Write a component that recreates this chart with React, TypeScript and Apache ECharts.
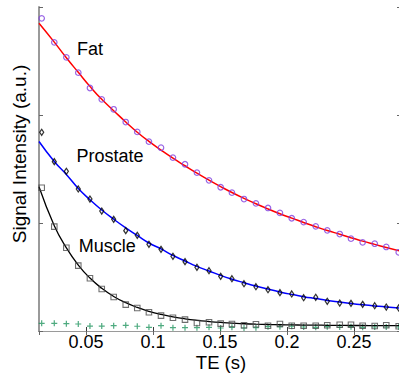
import React, { useEffect, useRef } from "react";
import * as echarts from "echarts";

// Echo times (s) of the measured samples
const teEcho = [
  0.017, 0.0264, 0.0354, 0.0443, 0.053, 0.0618, 0.0707, 0.0797, 0.0883, 0.097,
  0.106, 0.1149, 0.1239, 0.1328, 0.1418, 0.1505, 0.1589, 0.1679, 0.1768, 0.1858,
  0.1947, 0.2035, 0.2124, 0.2214, 0.23, 0.2393, 0.2477, 0.2564, 0.2654, 0.274, 0.2833,
];
const fatSignal = [
  2.895, 2.673, 2.534, 2.392, 2.25, 2.145, 2.053, 1.935, 1.843, 1.753,
  1.697, 1.605, 1.544, 1.466, 1.395, 1.331, 1.281, 1.222, 1.182, 1.139,
  1.093, 1.044, 1.009, 0.969, 0.932, 0.898, 0.855, 0.821, 0.808, 0.778, 0.729,
];
const prostateSignal = [
  1.84, 1.568, 1.479, 1.315, 1.222, 1.111, 1.034, 0.929, 0.886, 0.803,
  0.756, 0.692, 0.642, 0.59, 0.558, 0.506, 0.484, 0.438, 0.41, 0.382,
  0.355, 0.343, 0.308, 0.312, 0.275, 0.259, 0.256, 0.247, 0.234, 0.222, 0.213,
];
const muscleSignal = [
  1.327, 0.966, 0.771, 0.605, 0.488, 0.389, 0.315, 0.244, 0.213, 0.173,
  0.142, 0.123, 0.105, 0.074, 0.081, 0.068, 0.065, 0.053, 0.062, 0.049,
  0.065, 0.049, 0.049, 0.049, 0.053, 0.058, 0.058, 0.049, 0.046, 0.053, 0.044,
];
const noiseSignal = [
  0.071, 0.071, 0.068, 0.065, 0.046, 0.046, 0.049, 0.053, 0.044, 0.034,
  0.049, 0.031, 0.031, 0.031, 0.034, 0.028, 0.034, 0.028, 0.031, 0.04,
  0.04, 0.044, 0.037, 0.034, 0.04, 0.037, 0.04, 0.034, 0.037, 0.037, 0.037,
];

// Fitted curves
const fitTE = [
  0.015, 0.0264, 0.0354, 0.0443, 0.053, 0.0618, 0.0707, 0.0797, 0.0883, 0.097,
  0.106, 0.1149, 0.1239, 0.1328, 0.1418, 0.1505, 0.1589, 0.1679, 0.1768, 0.1858,
  0.1947, 0.2035, 0.2124, 0.2214, 0.23, 0.2393, 0.2477, 0.2564, 0.2654, 0.274, 0.285,
];
const fatFit = [
  2.85, 2.675, 2.53, 2.395, 2.265, 2.145, 2.04, 1.935, 1.84, 1.755,
  1.675, 1.6, 1.53, 1.462, 1.397, 1.337, 1.282, 1.228, 1.178, 1.13,
  1.085, 1.045, 1.005, 0.966, 0.931, 0.896, 0.864, 0.832, 0.802, 0.774, 0.738,
];
const prostateFit = [
  1.755, 1.57, 1.45, 1.32, 1.215, 1.12, 1.035, 0.955, 0.885, 0.815,
  0.76, 0.7, 0.648, 0.598, 0.556, 0.515, 0.48, 0.447, 0.416, 0.388,
  0.362, 0.339, 0.318, 0.3, 0.283, 0.268, 0.255, 0.243, 0.232, 0.222, 0.212,
];
const muscleFit = [
  1.335, 0.975, 0.77, 0.61, 0.49, 0.395, 0.32, 0.262, 0.218, 0.182,
  0.153, 0.131, 0.113, 0.099, 0.088, 0.079, 0.072, 0.067, 0.063, 0.06,
  0.058, 0.056, 0.055, 0.054, 0.053, 0.052, 0.051, 0.051, 0.05, 0.05, 0.05,
];

const tissueLabels = ["Fat", "Prostate", "Muscle"];
const xTitle = "TE (s)";
const yTitle = "Signal Intensity (a.u.)";

const FONT = "Liberation Sans, Arial, Helvetica, sans-serif";
const PLUS = "path://M2,0H3V2H5V3H3V5H2V3H0V2H2Z";

const pairs = (xs: number[], ys: number[]) => xs.map((x, i) => [x, ys[i]]);

export default function App() {
  const ref = useRef<HTMLDivElement>(null);
  useEffect(() => {
    if (!ref.current) return;
    const chart = echarts.init(ref.current, null, { renderer: "svg" });
    const gray = "#9a9a9a";
    const dark = "#3a3a3a";
    const xCommon = {
      type: "value" as const,
      min: 0.015,
      max: 0.285,
      splitNumber: 5,
      splitLine: { show: false },
    };
    const yCommon = {
      type: "value" as const,
      min: 0,
      max: 3,
      interval: 1,
      splitLine: { show: false },
      axisLabel: { show: false },
    };
    chart.setOption({
      animation: false,
      backgroundColor: "#ffffff",
      grid: {
        left: 39,
        top: 7,
        right: -2,
        bottom: 43,
        containLabel: false,
        outerBoundsMode: "none",
      },
      xAxis: [
        {
          ...xCommon,
          position: "bottom",
          axisLine: { lineStyle: { color: dark, width: 1 } },
          axisTick: { inside: true, length: 4, lineStyle: { color: dark } },
          axisLabel: {
            fontFamily: FONT,
            fontSize: 18,
            color: "#000",
            margin: 2,
            showMinLabel: false,
            showMaxLabel: false,
          },
        },
        {
          ...xCommon,
          position: "top",
          axisLine: { lineStyle: { color: gray, width: 1 } },
          axisTick: { inside: true, length: 4, lineStyle: { color: "#666" } },
          axisLabel: { show: false },
        },
      ],
      yAxis: [
        {
          ...yCommon,
          position: "left",
          axisLine: { show: true, lineStyle: { color: gray, width: 2 } },
          axisTick: { show: true, inside: true, length: 4, lineStyle: { color: "#666" } },
        },
        {
          ...yCommon,
          position: "right",
          axisLine: { show: true, lineStyle: { color: gray, width: 1 } },
          axisTick: { show: true, inside: true, length: 4, lineStyle: { color: "#666" } },
        },
      ],
      graphic: [
        {
          type: "text",
          x: 19,
          y: 154,
          rotation: Math.PI / 2,
          style: {
            text: yTitle,
            font: `19px ${FONT}`,
            fill: "#000",
            textAlign: "center",
            textVerticalAlign: "middle",
          },
        },
        {
          type: "text",
          x: 221,
          y: 362.5,
          style: {
            text: xTitle,
            font: `18.5px ${FONT}`,
            fill: "#000",
            textAlign: "center",
            textVerticalAlign: "middle",
          },
        },
        {
          type: "text",
          x: 77,
          y: 49,
          style: { text: tissueLabels[0], font: `18px ${FONT}`, fill: "#000", textVerticalAlign: "middle" },
        },
        {
          type: "text",
          x: 76.5,
          y: 156,
          style: { text: tissueLabels[1], font: `18px ${FONT}`, fill: "#000", textVerticalAlign: "middle" },
        },
        {
          type: "text",
          x: 78.7,
          y: 245.5,
          style: { text: tissueLabels[2], font: `18px ${FONT}`, fill: "#000", textVerticalAlign: "middle" },
        },
      ],
      series: [
        {
          type: "scatter",
          name: "noise",
          data: pairs(teEcho, noiseSignal),
          symbol: PLUS,
          symbolSize: 6,
          itemStyle: { color: "#22955f" },
          z: 2,
        },
        {
          type: "line",
          name: "Fat fit",
          data: pairs(fitTE, fatFit),
          smooth: true,
          showSymbol: false,
          lineStyle: { color: "#ff0000", width: 1.5 },
          z: 3,
        },
        {
          type: "line",
          name: "Prostate fit",
          data: pairs(fitTE, prostateFit),
          smooth: true,
          showSymbol: false,
          lineStyle: { color: "#0000ff", width: 1.5 },
          z: 3,
        },
        {
          type: "line",
          name: "Muscle fit",
          data: pairs(fitTE, muscleFit),
          smooth: true,
          showSymbol: false,
          lineStyle: { color: "#000000", width: 1.3 },
          z: 3,
        },
        {
          type: "scatter",
          name: "Fat",
          data: pairs(teEcho, fatSignal),
          symbol: "circle",
          symbolSize: 5.5,
          itemStyle: { color: "rgba(0,0,0,0)", borderColor: "#7f3fdf", borderWidth: 1.2 },
          z: 4,
        },
        {
          type: "scatter",
          name: "Prostate",
          data: pairs(teEcho, prostateSignal),
          symbol: "diamond",
          symbolSize: [4, 6],
          itemStyle: { color: "rgba(0,0,0,0)", borderColor: "#000", borderWidth: 1.3 },
          z: 4,
        },
        {
          type: "scatter",
          name: "Muscle",
          data: pairs(teEcho, muscleSignal),
          symbol: "rect",
          symbolSize: 5.5,
          itemStyle: { color: "rgba(0,0,0,0)", borderColor: "#4a4a4a", borderWidth: 1.1 },
          z: 4,
        },
      ],
    });
    return () => chart.dispose();
  }, []);
  return (
    <div
      ref={ref}
      style={{ position: "fixed", left: 0, top: 0, width: 399, height: 374 }}
    />
  );
}
